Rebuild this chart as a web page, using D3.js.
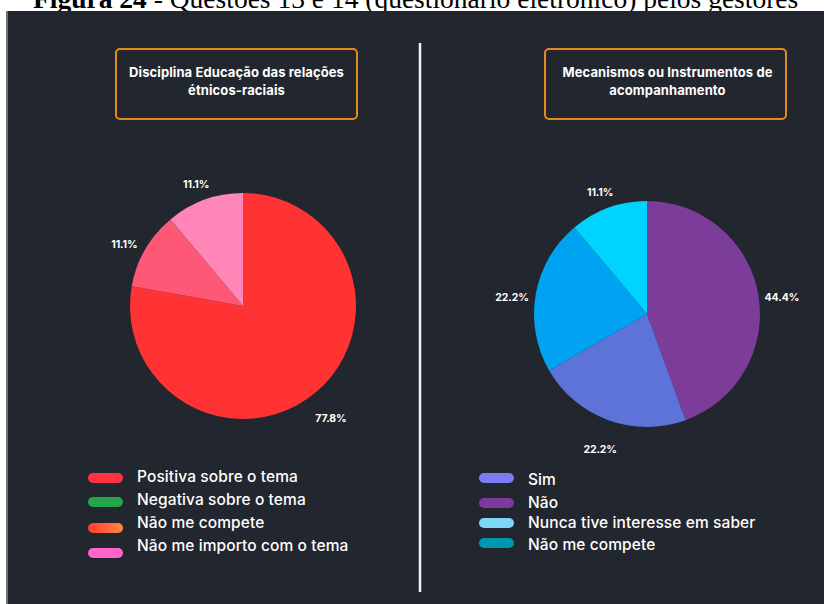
<!DOCTYPE html>
<html>
<head>
<meta charset="utf-8">
<script src="https://cdn.jsdelivr.net/npm/d3@7"></script>
<style>
  html, body { margin: 0; padding: 0; background: #fff; }
  svg { display: block; }
</style>
</head>
<body>
<svg id="chart" width="824" height="604"></svg>
<script>
const svg = d3.select('#chart');
const width = 824;
const height = 604;

const caption = ['Figura 24', ' - Questões 13 e 14 (questionário eletrônico) pelos gestores'];

// Left chart: Disciplina Educação das relações étnicos-raciais
const title1 = ['Disciplina Educação das relações', 'étnicos-raciais'];
const categories1 = ['Positiva sobre o tema', 'Negativa sobre o tema', 'Não me compete', 'Não me importo com o tema'];
const values1 = [77.8, 0, 11.1, 11.1];
const sliceColors1 = ['#ff3333', '#22a64a', '#fe5876', '#ff86b6'];
const legendColors1 = ['#ff3340', '#22a64a', 'url(#grad-orange)', '#ff66c8'];

// Right chart: Mecanismos ou instrumentos de acompanhamento
const title2 = ['Mecanismos ou Instrumentos de', 'acompanhamento'];
const categories2 = ['Sim', 'Não', 'Nunca tive interesse em saber', 'Não me compete'];
const values2 = [22.2, 44.4, 22.2, 11.1];
const sliceOrder2 = [1, 0, 2, 3];
const sliceColors2 = ['#5d73d7', '#7b3c9a', '#00a3f2', '#00d3ff'];
const legendColors2 = ['#7b7cf5', '#7b3a9c', '#7dd6f7', '#0098b0'];

const font = 'Inter, "Open Sans", sans-serif';

const defs = svg.append('defs');
const grad = defs.append('linearGradient').attr('id', 'grad-orange');
grad.append('stop').attr('offset', '0%').attr('stop-color', '#ff3a30');
grad.append('stop').attr('offset', '100%').attr('stop-color', '#ff8a40');

// caption (cut by the panel, as in the scan)
const cap = svg.append('text')
  .attr('x', 33).attr('y', 8)
  .attr('font-family', '"Liberation Serif", "Times New Roman", serif')
  .attr('font-size', 27.5)
  .attr('fill', '#000');
cap.append('tspan').attr('font-weight', 'bold').text(caption[0]);
cap.append('tspan').text(caption[1]);

// dark panel
svg.append('rect')
  .attr('x', 6).attr('y', 11)
  .attr('width', width - 6).attr('height', height - 11)
  .attr('fill', '#22262e');
svg.append('line')
  .attr('x1', 7).attr('x2', 7).attr('y1', 11).attr('y2', height)
  .attr('stroke', '#8a8d92').attr('stroke-width', 1.5);

// divider
svg.append('line')
  .attr('x1', 420).attr('x2', 420).attr('y1', 43).attr('y2', 592)
  .attr('stroke', '#f2f2f2').attr('stroke-width', 2.5);

function drawPanel(cfg) {
  const g = svg.append('g');

  // title box
  g.append('rect')
    .attr('x', cfg.box[0]).attr('y', 49)
    .attr('width', 241).attr('height', 70)
    .attr('rx', 4)
    .attr('fill', 'none')
    .attr('stroke', '#e38b1f').attr('stroke-width', 2);
  g.selectAll('text.title')
    .data(cfg.title)
    .join('text')
    .attr('class', 'title')
    .attr('x', cfg.box[0] + 120.5 + cfg.titleDx)
    .attr('y', (d, i) => 72 + i * 18)
    .attr('dy', '0.35em')
    .attr('text-anchor', 'middle')
    .attr('font-family', font)
    .attr('font-weight', 700)
    .attr('font-size', 13)
    .attr('letter-spacing', 0.1)
    .attr('fill', '#ffffff')
    .text(d => d);

  // pie
  const radius = 113;
  const pie = d3.pie().sort(null).value(d => d.value);
  const arc = d3.arc().innerRadius(0).outerRadius(radius);
  const labelArc = d3.arc().innerRadius(137).outerRadius(137);
  const slices = pie(cfg.order.map(i => ({ i, value: cfg.values[i] })));

  const pg = g.append('g').attr('transform', `translate(${cfg.cx},${cfg.cy})`);
  pg.selectAll('path')
    .data(slices)
    .join('path')
    .attr('d', arc)
    .attr('fill', d => cfg.sliceColors[d.data.i]);
  pg.selectAll('text')
    .data(slices.filter(d => d.data.value > 0))
    .join('text')
    .attr('transform', d => {
      const [x, y] = labelArc.centroid(d);
      return `translate(${x},${y + 7})`;
    })
    .attr('dy', '0.35em')
    .attr('text-anchor', 'middle')
    .attr('font-family', font)
    .attr('font-weight', 700)
    .attr('font-size', 10.5)
    .attr('letter-spacing', -0.1)
    .attr('fill', '#ffffff')
    .text(d => d3.format('.1f')(d.data.value) + '%');

  // legend
  const lg = g.append('g');
  const rows = lg.selectAll('g')
    .data(cfg.categories)
    .join('g')
    .attr('transform', (d, i) => `translate(${cfg.legendX},${cfg.legendY[i]})`);
  rows.append('rect')
    .attr('x', 0).attr('y', -5)
    .attr('width', 35).attr('height', 10)
    .attr('rx', 5)
    .attr('fill', (d, i) => cfg.legendColors[i]);
  rows.append('text')
    .attr('x', 49).attr('y', (d, i) => cfg.textDy[i])
    .attr('dy', '0.35em')
    .attr('font-family', font)
    .attr('font-weight', 500)
    .attr('font-size', 15.5)
    .attr('letter-spacing', 0.1)
    .attr('fill', '#ffffff')
    .text(d => d);
}

drawPanel({
  box: [116], titleDx: 0, title: title1,
  cx: 243, cy: 306,
  categories: categories1, values: values1, order: [0, 1, 2, 3],
  sliceColors: sliceColors1, legendColors: legendColors1,
  legendX: 88, legendY: [478, 502, 528, 553], textDy: [-1, -2, -5, -7]
});

drawPanel({
  box: [545], titleDx: 2, title: title2,
  cx: 647, cy: 314,
  categories: categories2, values: values2, order: sliceOrder2,
  sliceColors: sliceColors2, legendColors: legendColors2,
  legendX: 479, legendY: [478, 503, 523, 543], textDy: [2, 0, 0, 2]
});
</script>
</body>
</html>
